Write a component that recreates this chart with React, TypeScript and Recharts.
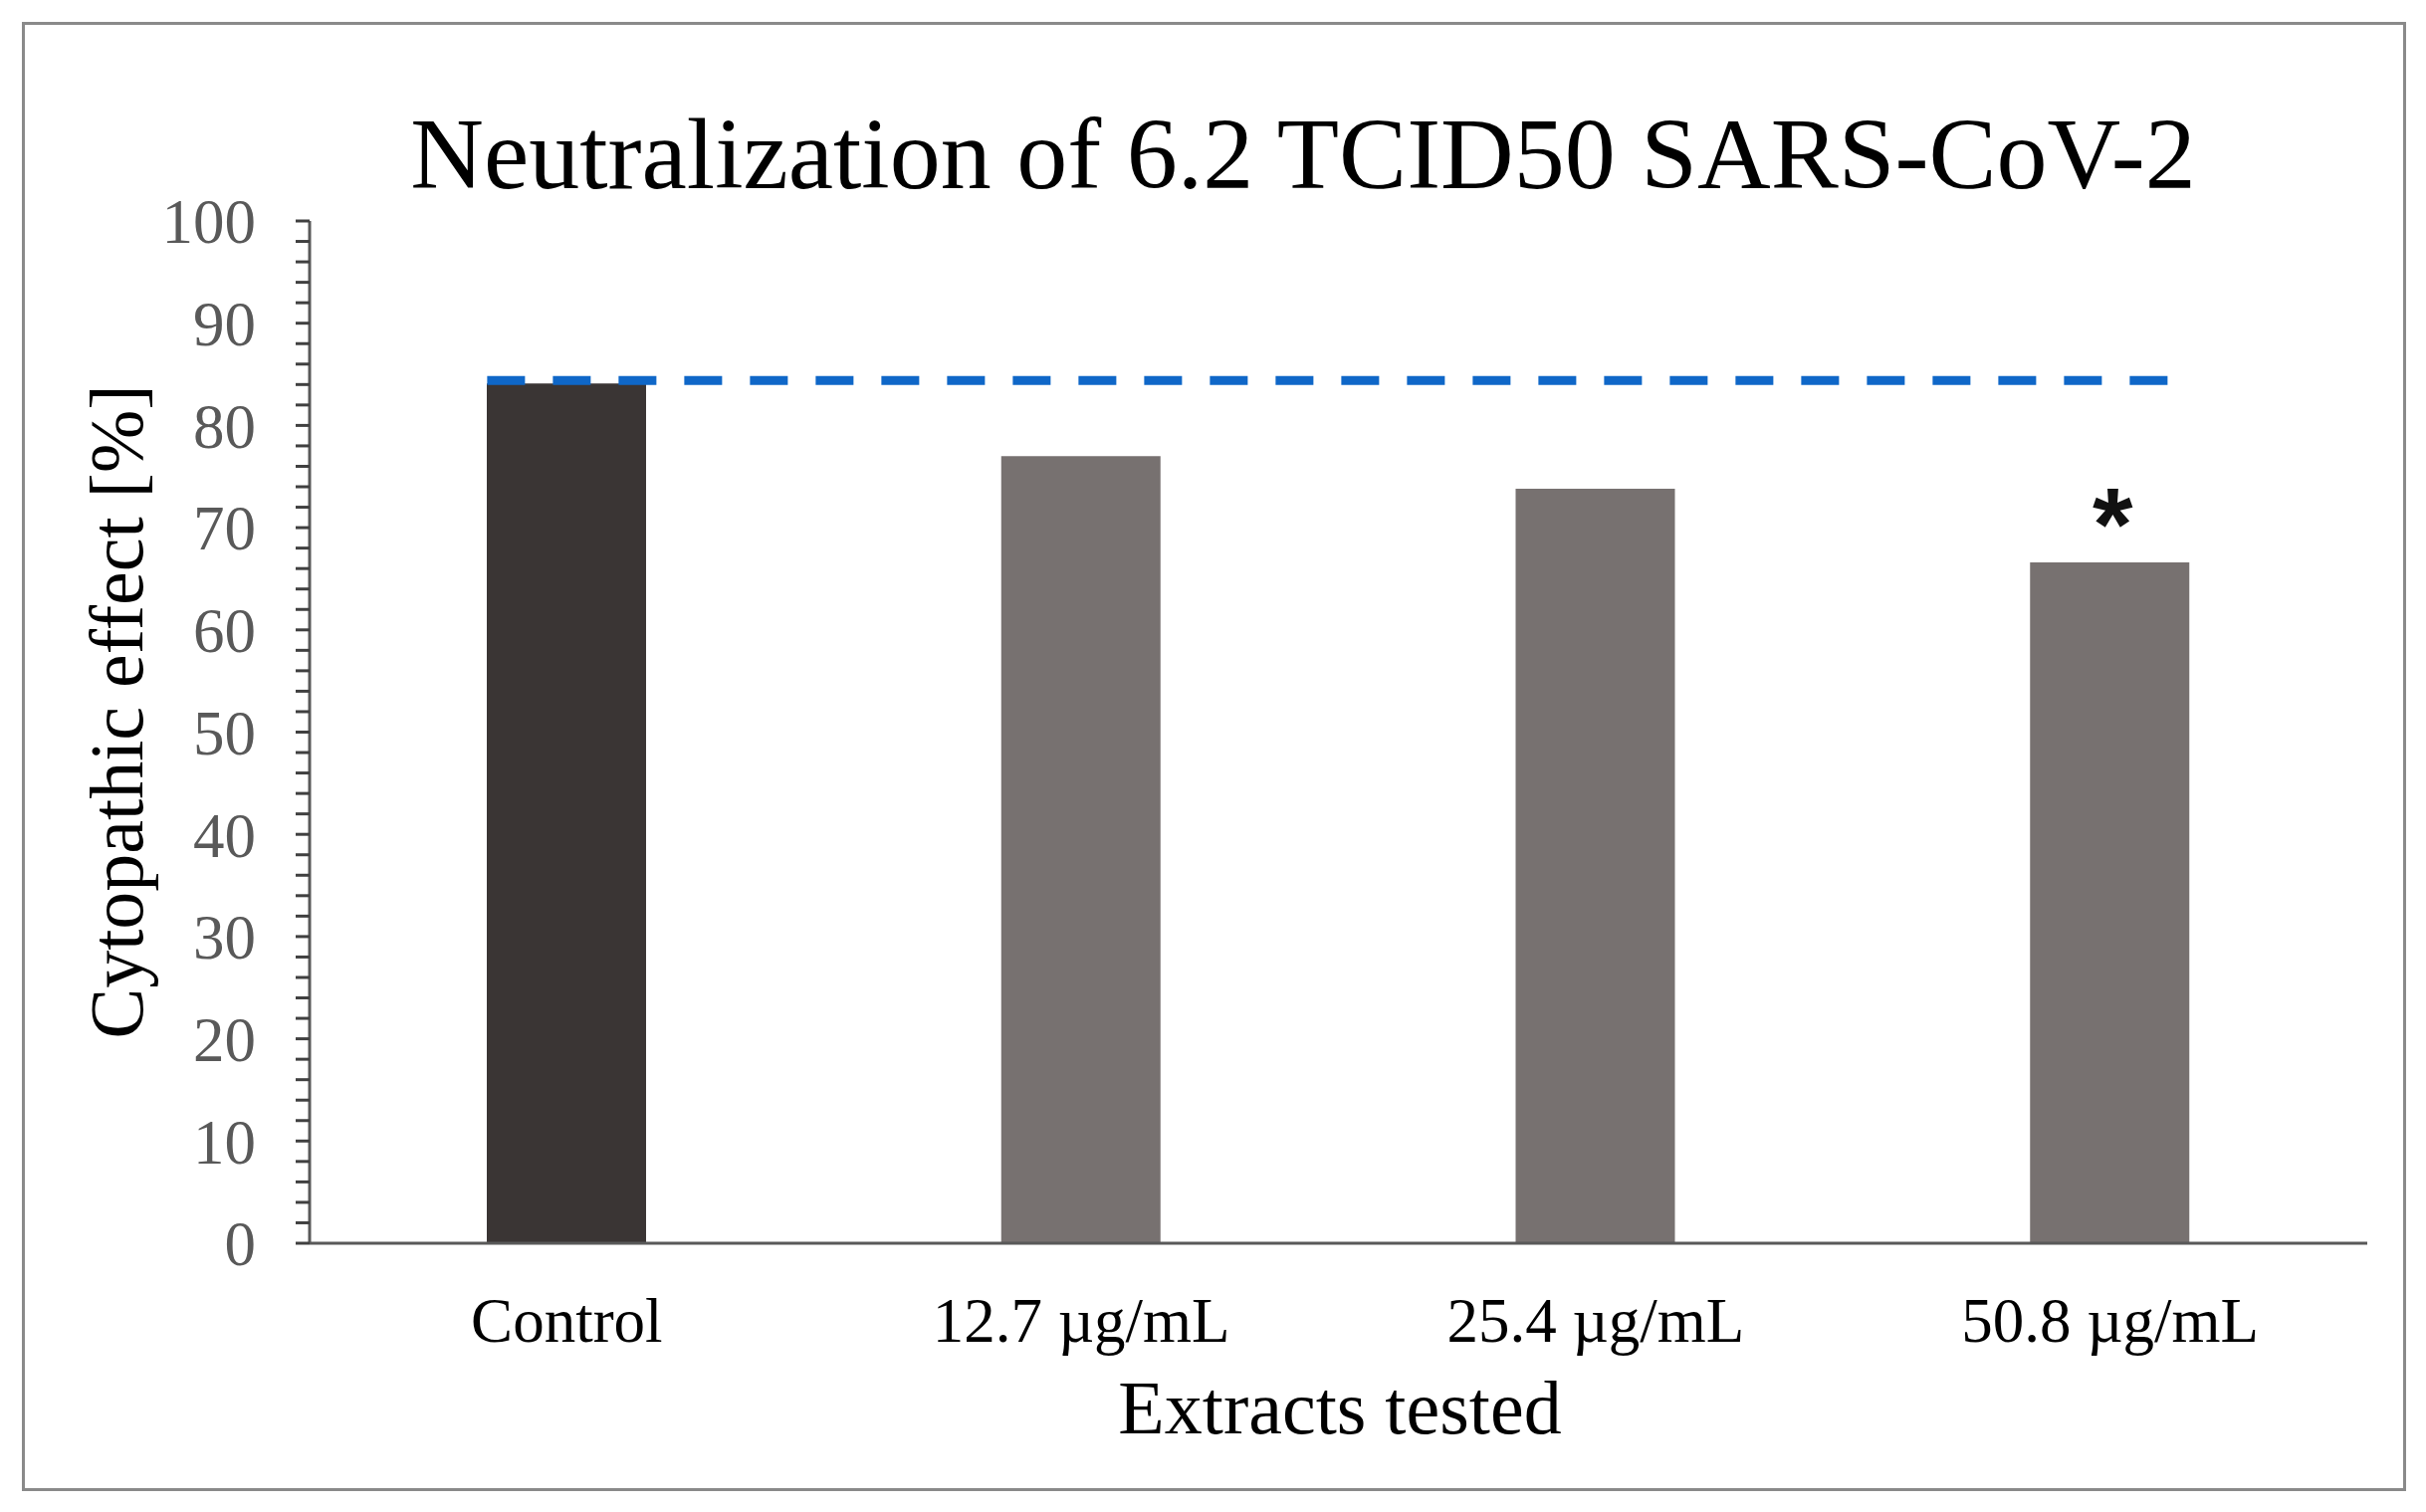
import React from 'react';
import {
  BarChart,
  Bar,
  XAxis,
  YAxis,
  Cell,
  LabelList,
  Label,
  ReferenceLine
} from 'recharts';

const categories = ['Control', '12.7 µg/mL', '25.4 µg/mL', '50.8 µg/mL'];
const cpeValues = [84.1, 77.0, 73.8, 66.6];
const significance = ['', '', '', '*'];
const controlLevel = 84.4;
const yTicks = Array.from({ length: 51 }, (_, i) => i * 2);

const barColors = ['#3a3534', '#777170', '#777170', '#777170'];
const SERIF = '"Liberation Serif", "Times New Roman", serif';
const BAR_SIZE = 160;

const data = categories.map((name, i) => ({
  name,
  value: cpeValues[i],
  mark: significance[i]
}));

// dashed control level, stretched from the first bar's left edge to the last bar's right edge
const DashedControlLine = (props: any) => {
  const { x1, y1, x2, y2 } = props;
  return (
    <line
      x1={x1 - BAR_SIZE / 2}
      y1={y1}
      x2={x2 + BAR_SIZE / 2}
      y2={y2}
      stroke="#0f67c8"
      strokeWidth={9}
      strokeDasharray="38 28"
    />
  );
};

const StarLabel = (props: any) => {
  const { x, y, width, value } = props;
  if (!value) return null;
  return (
    <text
      x={x + width / 2 + 3}
      y={y - 2}
      textAnchor="middle"
      fontFamily='"Liberation Sans", Arial, sans-serif'
      fontWeight="bold"
      fontSize={104}
      fill="#111"
    >
      {value}
    </text>
  );
};

const App: React.FC = () => {
  return (
    <div
      style={{
        position: 'absolute',
        left: 0,
        top: 0,
        width: 2437,
        height: 1519,
        background: '#fff'
      }}
    >
      <div
        style={{
          position: 'absolute',
          left: 22,
          top: 22,
          width: 2389,
          height: 1470,
          border: '3px solid #8a8a8a'
        }}
      />
      <div
        style={{
          position: 'absolute',
          left: 109,
          top: 104,
          width: 2400,
          textAlign: 'center',
          fontFamily: SERIF,
          fontSize: 102,
          lineHeight: 1,
          color: '#000'
        }}
      >
        Neutralization of 6.2 TCID50 SARS-CoV-2
      </div>
      <div style={{ position: 'absolute', left: 0, top: 0 }}>
        <BarChart
          width={2437}
          height={1519}
          data={data}
          margin={{ top: 222, right: 59, bottom: 100, left: 61 }}
        >
          <XAxis
            dataKey="name"
            height={170}
            tickLine={false}
            tickSize={0}
            tickMargin={54}
            axisLine={{ stroke: '#595959', strokeWidth: 3 }}
            tick={{ fill: '#000', fontSize: 63, fontFamily: SERIF }}
            interval={0}
          >
            <Label
              content={() => (
                <text
                  x={1346}
                  y={1440}
                  textAnchor="middle"
                  fontFamily={SERIF}
                  fontSize={76}
                  fill="#000"
                >
                  Extracts tested
                </text>
              )}
            />
          </XAxis>
          <YAxis
            width={250}
            domain={[0, 100]}
            ticks={yTicks}
            interval={0}
            tickSize={14}
            tickMargin={40}
            tickFormatter={(v: number) => (v % 10 === 0 ? String(v) : '')}
            tickLine={{ stroke: '#404040', strokeWidth: 3 }}
            axisLine={{ stroke: '#595959', strokeWidth: 3 }}
            tick={{ fill: '#595959', fontSize: 63, fontFamily: SERIF }}
          >
            <Label
              content={() => (
                <text
                  x={117}
                  y={715}
                  transform="rotate(-90 117 715)"
                  textAnchor="middle"
                  dominantBaseline="central"
                  fontFamily={SERIF}
                  fontSize={76}
                  fill="#000"
                >
                  Cytopathic effect [%]
                </text>
              )}
            />
          </YAxis>
          <Bar dataKey="value" barSize={BAR_SIZE} isAnimationActive={false}>
            {data.map((entry, index) => (
              <Cell key={`cell-${index}`} fill={barColors[index]} />
            ))}
            <LabelList dataKey="mark" content={<StarLabel />} />
          </Bar>
          <ReferenceLine
            segment={[
              { x: categories[0], y: controlLevel },
              { x: categories[categories.length - 1], y: controlLevel }
            ]}
            shape={<DashedControlLine />}
          />
        </BarChart>
      </div>
    </div>
  );
};

export default App;
